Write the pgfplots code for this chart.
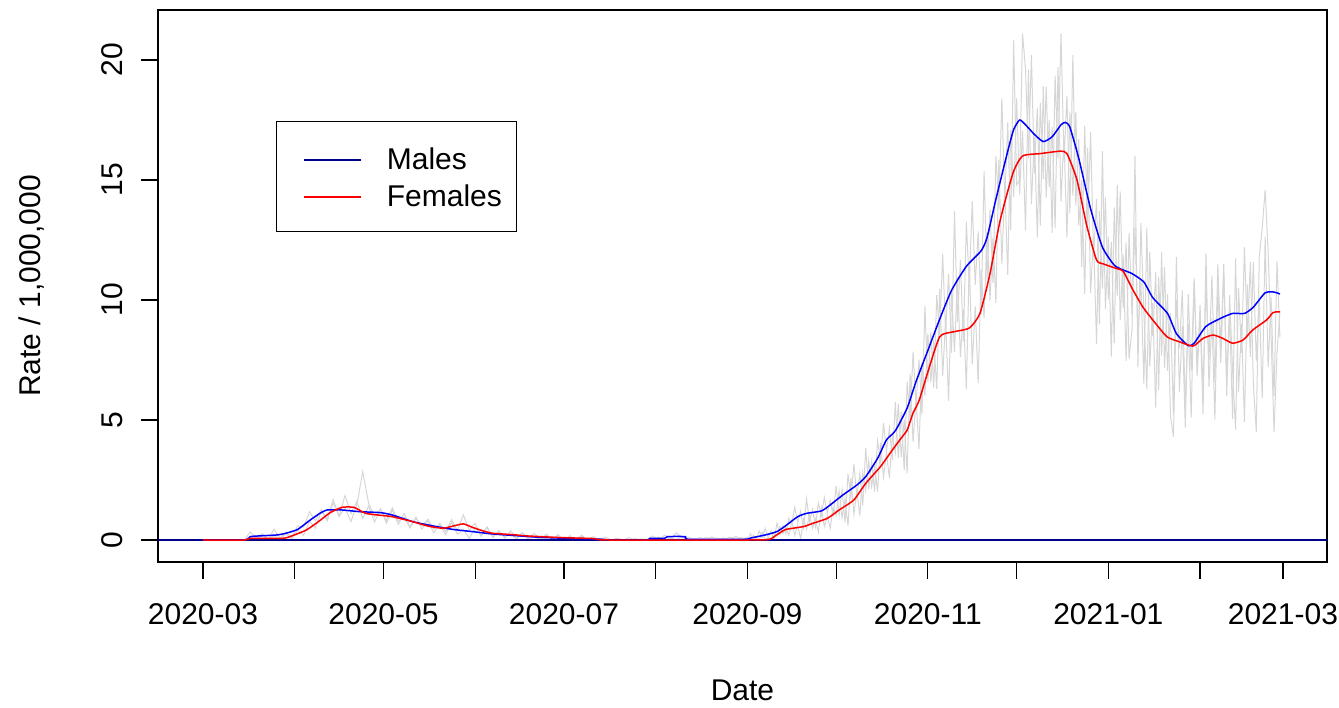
\documentclass[border=0pt]{standalone}
\usepackage{fontspec}
\setmainfont{Liberation Sans}
\usepackage{pgfplots}
\usepackage{pgfplotstable}
\pgfplotsset{compat=1.18}

\definecolor{rblue}{RGB}{0,0,255}
\definecolor{rred}{RGB}{255,0,0}
\definecolor{navy}{RGB}{0,0,139}
\definecolor{rawgray}{RGB}{214,214,214}

% smoothed rates (day 0 = 2020-03-01)
\pgfplotstableread{
day rate
0 0
14 0
16 0.14
19 0.17
25 0.21
28 0.28
32 0.44
36 0.81
39.5 1.11
42 1.25
47 1.25
53 1.18
60 1.14
64 1.04
71 0.76
78 0.58
84.5 0.44
91 0.35
98 0.25
107 0.17
114 0.11
123 0.07
135 0.03
137 0
150 0
151 0.07
156 0.07
157 0.14
163 0.14
164 0.03
183 0.03
185 0.08
190 0.21
194 0.35
197 0.6
201 0.97
204 1.11
209 1.21
212 1.46
216 1.85
221 2.29
224 2.64
228 3.4
231 4.17
234 4.55
238 5.5
241 6.6
245 7.9
249 9.2
253 10.4
258 11.4
263 12.05
265 12.6
268 14.2
272 16.2
274 17.1
276 17.5
278 17.3
281 16.9
284 16.6
287 16.8
290 17.3
291.5 17.4
293 17.2
296 15.9
300 13.8
304 12.2
308 11.45
311 11.25
314 11.1
318 10.75
321 10.1
326 9.44
329 8.6
333 8.1
335 8.2
339 8.9
344 9.24
348 9.44
352 9.44
355 9.7
359 10.3
362 10.33
364 10.25
}\males

\pgfplotstableread{
day rate
0 0
14 0
16 0.07
27 0.07
30 0.17
35 0.42
39.5 0.81
43 1.14
47 1.36
51 1.36
55 1.11
60 1.03
64 0.97
71 0.76
76 0.58
81 0.49
84.5 0.58
88 0.67
91 0.53
94.6 0.38
98 0.28
105 0.22
109.5 0.17
121 0.10
132 0.06
137 0
186 0
190 0.01
192 0.05
193.5 0.18
195 0.3
197 0.44
203 0.56
206 0.69
211 0.90
215 1.25
220 1.67
224 2.36
229 3.06
233 3.75
236 4.25
238 4.58
240 5.29
242 5.8
245 7.0
249 8.47
253.5 8.67
259 8.83
262.6 9.44
266 11.1
269.4 13.3
273.8 15.3
277 16.0
283 16.1
289.7 16.2
292 16.1
295.4 15.0
298.7 13.1
302 11.67
304.4 11.5
309 11.3
311 11.2
314.4 10.4
317.7 9.7
321 9.17
325.8 8.47
330 8.26
334.6 8.08
338 8.4
341.4 8.54
344.7 8.4
348 8.2
351.5 8.33
354.8 8.75
359.5 9.17
361.6 9.47
363.3 9.51
364 9.5
}\females

% raw daily rates
\pgfplotstableread{
day rate
0 0
14 0
16 0.34
18 0.06
20 0.26
22 0
24 0.45
26 0.08
28 0.33
30 0.11
32 0.59
34 0.54
36 1.17
38 0.80
40 1.28
42 0.85
44 1.70
46 0.98
48 1.33
50 0.77
52 1.46
54 2.85
56 1.52
58 0.97
60 1.28
62 0.82
64 1.34
66 0.78
68 0.94
70 0.5
72 0.91
74 0.59
76 0.87
78 0.46
80 0.64
82 0.22
84 0.75
86 0.24
88 0.45
90 0.06
92 0.52
94 0.21
96 0.52
98 0.13
100 0.35
102 0.15
104 0.25
106 0.04
108 0.31
110 0.05
112 0.15
114 0
116 0.19
118 0.04
120 0.2
122 0.01
124 0.12
126 0
128 0.2
130 0
132 0.07
134 0
136 0.11
138 0
140 0.08
142 0
144 0.1
146 0
148 0.05
150 0
152 0.17
154 0
156 0.2
158 0.05
160 0.3
162 0.08
164 0.12
166 0
168 0.1
170 0.02
172 0.12
174 0
176 0.09
178 0.02
180 0.15
182 0.04
184 0.1
185 0
186 0.2
187 0
188 0.38
189 0.09
190 0.49
191 0.11
192 0.38
193 0
194 0.7
195 0.22
196 0.59
197 0.25
198 0.9
199 0.68
200 1.36
201 0.73
202 1.2
203 0.52
204 1.71
205 0.77
206 1.27
207 0.57
208 1.55
209 1.03
210 1.77
211 1.14
212 1.64
213 1.02
214 2.26
215 1.03
216 2.09
217 0.74
218 2.75
219 1.76
220 3.16
221 1.81
222 2.77
223 1.44
224 3.84
225 2.11
226 3.26
227 2.01
228 4.12
229 3.3
230 4.87
231 3.69
232 4.66
233 3.34
234 5.75
235 3.41
236 5.35
237 2.9
238 6.6
239 5.03
240 7.85
241 5.62
242 7.51
243 5.22
244 9.75
245 6.58
246 8.66
247 6.35
248 10.2
249 8.54
250 11.92
251 8.65
252 11.08
253 7.8
254 13.69
255 9.08
256 11.67
257 8.27
258 13.26
259 10.68
260 14.11
261 10.63
262 12.86
263 9.4
264 15.37
265 10.84
266 13.77
267 10.7
268 16.0
269 13.8
270 18.4
271 14.1
272 17.4
273 12.9
274 20.85
275 14.8
276 15.0
277 21.1
278 19.63
279 15.9
280 20.2
281 15.3
282 18.0
283 13.1
284 18.9
285 14.27
286 17.5
287 12.8
288 19.35
289 15.9
290 21.1
291 15.8
292 18.5
293 13.6
294 20.2
295 13.93
296 16.7
297 11.38
298 17.25
299 13.13
300 17.0
301 11.8
302 14.2
303 9.0
304 16.2
305 9.61
306 12.63
307 7.64
308 13.85
309 10.18
310 14.52
311 9.65
312 12.4
313 7.55
314 8.8
315 16.0
316 7.2
317 13.2
318 9.5
319 6.3
320 12.0
321 8.5
322 11.17
323 6.24
324 12.0
325 7.17
326 10.24
327 5.16
328 4.3
329 10.0
330 8.0
331 10.4
332 5.5
333 9.0
334 5.1
335 10.8
336 7.2
337 9.8
338 6.2
339 10.6
340 7.5
341 11.0
342 6.6
343 11.5
344 8.0
345 11.5
346 6.0
347 10.2
348 7.0
349 4.6
350 10.5
351 7.8
352 12.2
353 8.4
354 11.6
355 6.5
356 4.5
357 11.8
358 13.0
359 14.6
360 12.0
361 8.5
362 4.5
363 7.8
364 9.5
}\malesraw

\pgfplotstableread{
day rate
0 0
14 0
16 0.15
18 0
20 0.22
22 0.02
24 0.18
26 0
28 0.25
30 0.05
32 0.42
34 0.2
36 0.78
38 0.5
40 1.2
42 0.8
44 1.55
46 1.0
48 1.85
50 1.1
52 1.6
54 0.9
56 1.4
58 0.75
60 1.3
62 0.7
64 1.25
66 0.65
68 1.1
70 0.55
72 0.95
74 0.45
76 0.8
78 0.3
80 0.7
82 0.35
84 0.85
86 0.4
88 1.05
90 0.4
92 0.7
94 0.15
96 0.55
98 0.1
100 0.4
102 0.08
104 0.38
106 0.05
108 0.3
110 0.02
112 0.28
114 0
116 0.25
118 0.03
120 0.22
122 0
124 0.18
126 0
128 0.16
130 0
132 0.14
134 0
136 0.1
138 0
140 0.05
142 0
144 0
146 0.06
148 0
150 0.04
152 0
154 0.12
156 0
158 0.08
160 0.02
162 0.15
164 0
166 0.06
168 0
170 0.1
172 0.02
174 0.08
176 0
178 0.12
180 0.03
182 0.1
184 0
185 0.27
186 0
187 0.12
188 0
189 0.33
190 0
191 0.09
192 0
193 0.32
194 0.16
195 0.55
196 0.26
197 0.53
198 0.19
199 0.78
200 0.2
201 0.62
202 0.04
203 0.86
204 0.45
205 1.05
206 0.49
207 0.88
208 0.32
209 1.32
210 0.56
211 1.0
212 0.49
213 1.37
214 1.01
215 2.05
216 0.93
217 1.72
218 0.6
219 2.59
220 1.07
221 2.04
222 1.02
223 2.79
224 2.06
225 3.3
226 2.24
227 3.08
228 2.02
229 4.06
230 2.63
231 3.61
232 2.58
233 4.35
234 3.62
235 5.68
236 3.45
237 5.02
238 2.78
239 6.94
240 4.09
241 5.9
242 3.8
243 7.4
244 6.0
245 8.6
246 6.57
247 8.34
248 6.3
249 10.47
250 6.83
251 9.12
252 5.8
253 10.33
254 7.84
255 10.95
256 7.62
257 9.61
258 6.28
259 11.63
260 7.32
261 9.73
262 6.54
263 11.28
264 9.26
265 12.84
266 9.98
267 12.59
268 9.88
269 15.85
270 11.5
271 14.8
272 11.05
273 17.1
274 14.3
275 18.4
276 14.4
277 17.05
278 12.9
279 19.6
280 14.0
281 16.8
282 12.6
283 18.2
284 15.05
285 18.9
286 14.7
287 17.2
288 13.0
289 19.7
290 14.1
291 16.85
292 12.6
293 17.85
294 14.35
295 17.85
296 13.1
297 15.0
298 10.25
299 16.35
300 10.3
301 12.65
302 8.17
303 13.7
304 10.47
305 14.27
306 10.03
307 12.43
308 8.19
309 14.8
310 9.15
311 11.9
312 7.45
313 12.8
314 9.4
315 13.02
316 8.6
317 10.85
318 6.5
319 13.0
320 7.23
321 9.87
322 5.52
323 10.97
324 7.68
325 11.38
326 7.05
327 9.45
328 5.2
329 11.8
330 6.16
331 8.92
332 4.68
333 10.24
334 7.05
335 10.92
336 6.82
337 9.36
338 5.25
339 11.94
340 6.38
341 9.23
342 5.02
343 10.57
344 7.37
345 11.15
346 6.89
347 9.28
348 5.05
349 11.73
350 6.17
351 9.01
352 4.92
353 10.65
354 7.63
355 11.58
356 7.47
357 10.01
358 5.9
359 12.64
360 7.2
361 10.13
362 5.98
363 11.61
364 8.45
}\femalesraw

\begin{document}
\begin{tikzpicture}
\begin{axis}[
    scale only axis,
    width=584.5pt, height=276pt,
    xmin=-15.2, xmax=379.9,
    ymin=-0.917, ymax=22.083,
    axis line style={line width=0.6pt},
    tick style={line width=0.6pt, black},
    tick align=outside,
    major tick length=8.25pt,
    xtick pos=bottom, ytick pos=left,
    xtick={0,31,61,92,122,153,184,214,245,275,306,337,365},
    xticklabels={2020-03,,2020-05,,2020-07,,2020-09,,2020-11,,2021-01,,2021-03},
    ytick={0,5,10,15,20},
    yticklabels={0,5,10,15,20},
    tick label style={font=\fontsize{15}{18}\selectfont, inner sep=0pt},
    xticklabel style={anchor=north, yshift=-12.25pt},
    yticklabel style={rotate=90, anchor=south, yshift=9pt},
    xlabel={Date},
    ylabel={Rate / 1,000,000},
    label style={font=\fontsize{15}{18}\selectfont},
    xlabel style={at={(axis description cs:0.5,0)}, anchor=center, yshift=-64pt},
    ylabel style={at={(axis description cs:0,0.5)}, anchor=center, yshift=63pt},
    legend style={at={(axis description cs:0.1009,0.7989)}, anchor=north west,
        draw=black, line width=0.6pt, font=\fontsize{15}{18}\selectfont,
        inner xsep=7.5pt, inner ysep=11pt, row sep=4pt, column sep=12.5pt,
        nodes={inner sep=0pt, text height=13pt, text depth=1.5pt}},
    legend cell align=left,
    legend image code/.code={
        \path[draw=none] (-6pt,0pt) -- (28.5pt,0pt);
        \draw[#1] (0pt,-1pt) -- (28.5pt,-1pt);
    },
]
\addplot[rawgray, line width=0.5pt, forget plot] table[x=day, y=rate] {\malesraw};
\addplot[rawgray, line width=0.5pt, forget plot] table[x=day, y=rate] {\femalesraw};
\addplot[navy, line width=0.75pt, forget plot] coordinates {(-15.2,0) (379.9,0)};
\addplot[rblue, line width=0.75pt, smooth, tension=0.35, forget plot] table[x=day, y=rate] {\males};
\addplot[rred, line width=0.75pt, smooth, tension=0.35, forget plot] table[x=day, y=rate] {\females};
\addlegendimage{navy, line width=1.3pt}
\addlegendimage{rred, line width=1.3pt}
\legend{Males, Females}
\end{axis}
\pgfresetboundingbox
\path[use as bounding box] (-79pt,-72.5pt) rectangle (590.5pt,281pt);
\end{tikzpicture}
\end{document}
